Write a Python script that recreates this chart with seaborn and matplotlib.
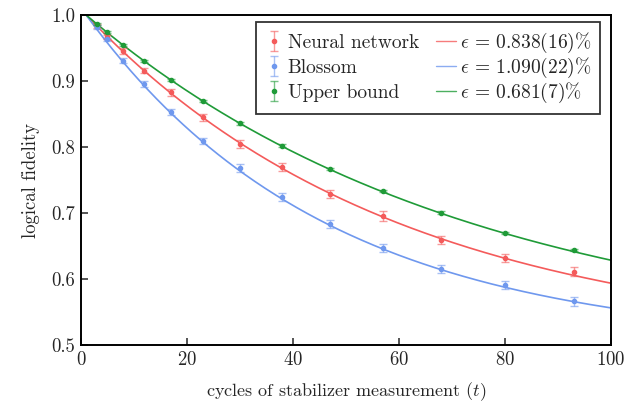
import numpy as np
import pandas as pd
import seaborn as sns
import matplotlib.pyplot as plt
from matplotlib.lines import Line2D

# cycles where fidelity was measured
cycles = [3, 5, 8, 12, 17, 23, 30, 38, 47, 57, 68, 80, 93]

nn_fid = [0.9833, 0.967, 0.9455, 0.9156, 0.8829, 0.845, 0.8045, 0.770, 0.7288, 0.6955, 0.659, 0.632, 0.611]
nn_err = [0.003, 0.003, 0.004, 0.004, 0.005, 0.005, 0.006, 0.006, 0.006, 0.007, 0.006, 0.006, 0.007]

blossom_fid = [0.9823, 0.963, 0.9308, 0.8955, 0.853, 0.8095, 0.7677, 0.7247, 0.6833, 0.647, 0.6156, 0.5905, 0.5667]
blossom_err = [0.003, 0.003, 0.004, 0.004, 0.005, 0.005, 0.006, 0.0065, 0.006, 0.0065, 0.0065, 0.006, 0.0068]

upper_fid = [0.9864, 0.9738, 0.9545, 0.930, 0.9015, 0.8697, 0.836, 0.802, 0.7667, 0.7333, 0.7005, 0.670, 0.644]
upper_err = [0.0015, 0.0015, 0.0015, 0.0015, 0.002, 0.002, 0.002, 0.002, 0.002, 0.002, 0.002, 0.002, 0.002]

# fitted logical error per cycle (legend values)
eps = {'nn': 0.00838, 'blossom': 0.01090, 'upper': 0.00681}
eps_labels = {'nn': r'$\epsilon\,=\,0.838(16)\%$',
              'blossom': r'$\epsilon\,=\,1.090(22)\%$',
              'upper': r'$\epsilon\,=\,0.681(7)\%$'}
names = {'nn': 'Neural network', 'blossom': 'Blossom', 'upper': 'Upper bound'}
colors = {'nn': '#f45b5b', 'blossom': '#6f98ee', 'upper': '#1f9b38'}

points = {'nn': (nn_fid, nn_err), 'blossom': (blossom_fid, blossom_err),
          'upper': (upper_fid, upper_err)}

sns.set_style('ticks')
plt.rcParams['font.family'] = 'serif'
plt.rcParams['font.serif'] = ['cmr10', 'DejaVu Serif']
plt.rcParams['mathtext.fontset'] = 'cm'
plt.rcParams['axes.formatter.use_mathtext'] = True

fig = plt.figure(figsize=(6.27, 4.07), dpi=100)
ax = fig.add_axes([0.129, 0.152, 0.8455, 0.811])

t_fit = np.linspace(1, 100, 300)
point_handles = []
line_handles = []
for key in ['nn', 'blossom', 'upper']:
    c = colors[key]
    fit = pd.DataFrame({'t': t_fit, 'F': 0.5 + 0.5 * (1 - 2 * eps[key]) ** (t_fit - 1)})
    sns.lineplot(data=fit, x='t', y='F', color=c, linewidth=1.2, ax=ax)
    fid, err = points[key]
    eb = ax.errorbar(cycles, fid, yerr=err, fmt='o', color=c, markersize=3,
                     elinewidth=1.0, capsize=3, capthick=1.0, ecolor=c + '99', zorder=3)
    point_handles.append(eb)
    line_handles.append(Line2D([], [], color=c, linewidth=1.0, alpha=0.8))

ax.set_xlim(0, 100)
ax.set_ylim(0.5, 1.0)
ax.set_xticks([0, 20, 40, 60, 80, 100])
ax.set_yticks([0.5, 0.6, 0.7, 0.8, 0.9, 1.0])
ax.set_yticklabels(['0.5', '0.6', '0.7', '0.8', '0.9', '1.0'])
ax.tick_params(direction='in', length=5, width=1.1, labelsize=13.5, pad=4)
for s in ax.spines.values():
    s.set_linewidth(1.4)
    s.set_color('black')

ax.set_xlabel(r'cycles of stabilizer measurement ($t$)', fontsize=13, labelpad=8)
ax.set_ylabel('logical fidelity', fontsize=13.5, labelpad=8)

leg = ax.legend(point_handles + line_handles,
                [names[k] for k in ['nn', 'blossom', 'upper']] +
                [eps_labels[k] for k in ['nn', 'blossom', 'upper']],
                ncol=2, loc='upper right', bbox_to_anchor=(0.979, 0.979),
                borderaxespad=0, fontsize=14, frameon=True, fancybox=False,
                edgecolor='black', handlelength=1.0,
                handletextpad=0.2, columnspacing=0.9,
                labelspacing=0.0, borderpad=0.45)
leg.get_frame().set_linewidth(1.3)

# plain-text and mathtext rows have different heights: give both columns the same row pitch
fig.canvas.draw()
renderer = fig.canvas.get_renderer()
row_px = 25
for col in leg._legend_handle_box.get_children():
    h = max(it.get_bbox(renderer).height for it in col.get_children())
    col.sep = (row_px - h) * 72 / fig.dpi

fig.savefig('out.png', dpi=100)
